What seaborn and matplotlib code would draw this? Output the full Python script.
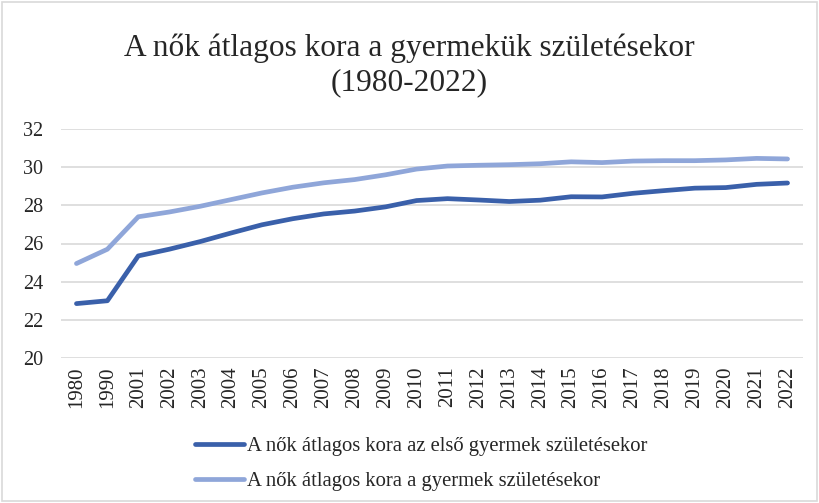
import pandas as pd
import matplotlib
matplotlib.use("Agg")
import matplotlib.pyplot as plt
import seaborn as sns
from matplotlib.patches import Rectangle

# Data
years = ["1980", "1990", "2001", "2002", "2003", "2004", "2005", "2006", "2007",
         "2008", "2009", "2010", "2011", "2012", "2013", "2014", "2015", "2016",
         "2017", "2018", "2019", "2020", "2021", "2022"]
first_child = [22.85, 23.0, 25.35, 25.7, 26.1, 26.55, 26.98, 27.3, 27.55, 27.7,
               27.92, 28.25, 28.35, 28.28, 28.2, 28.27, 28.45, 28.44, 28.63,
               28.77, 28.9, 28.93, 29.1, 29.17]
any_child = [24.95, 25.7, 27.4, 27.65, 27.95, 28.3, 28.65, 28.95, 29.18, 29.35,
             29.6, 29.9, 30.06, 30.1, 30.13, 30.18, 30.28, 30.24, 30.32, 30.34,
             30.34, 30.38, 30.46, 30.43]

label_first = "A nők átlagos kora az első gyermek születésekor"
label_any = "A nők átlagos kora a gyermek születésekor"

data = pd.DataFrame({
    "Év": years * 2,
    "Kor": first_child + any_child,
    "Sorozat": [label_first] * len(years) + [label_any] * len(years),
})

sns.set_style("white")
plt.rcParams["font.family"] = ["Liberation Serif", "DejaVu Serif"]

fig = plt.figure(figsize=(8.19, 5.03), dpi=100)
ax = fig.add_axes([61 / 819, 1 - 358 / 503, (803 - 61) / 819, (358 - 129) / 503])

sns.lineplot(
    data=data, x="Év", y="Kor", hue="Sorozat",
    palette={label_first: "#3A60AA", label_any: "#8FA6D9"},
    linewidth=3.4, ax=ax, sort=False,
)

ax.set_ylim(20, 32)
ax.set_yticks(range(20, 33, 2))
ax.set_xlim(-0.5, len(years) - 0.5)
ax.grid(axis="y", color="#d9d9d9", linewidth=1.2)
ax.set_axisbelow(True)
for s in ax.spines.values():
    s.set_visible(False)
ax.tick_params(axis="x", labelrotation=90, labelsize=15, length=0, pad=6)
ax.tick_params(axis="y", labelsize=14.5, length=0, pad=13)
ax.set_xlabel("")
ax.set_ylabel("")

fig.suptitle("A nők átlagos kora a gyermekük születésekor\n(1980-2022)",
             y=1 - 33 / 503, fontsize=22.6, color="#262626", linespacing=1.25)

handles, labels = ax.get_legend_handles_labels()
ax.legend(handles, labels, loc="upper left", bbox_to_anchor=(187 / 819, 1 - 428 / 503),
          bbox_transform=fig.transFigure, frameon=False, fontsize=14.9,
          handlelength=2.35, handletextpad=0.15, labelspacing=0.75,
          borderaxespad=0)

fig.patches.append(Rectangle((0.002, 0.003), 0.995, 0.994, transform=fig.transFigure,
                             fill=False, edgecolor="#d9d9d9", linewidth=1.2))

fig.savefig("out.png", dpi=100)
